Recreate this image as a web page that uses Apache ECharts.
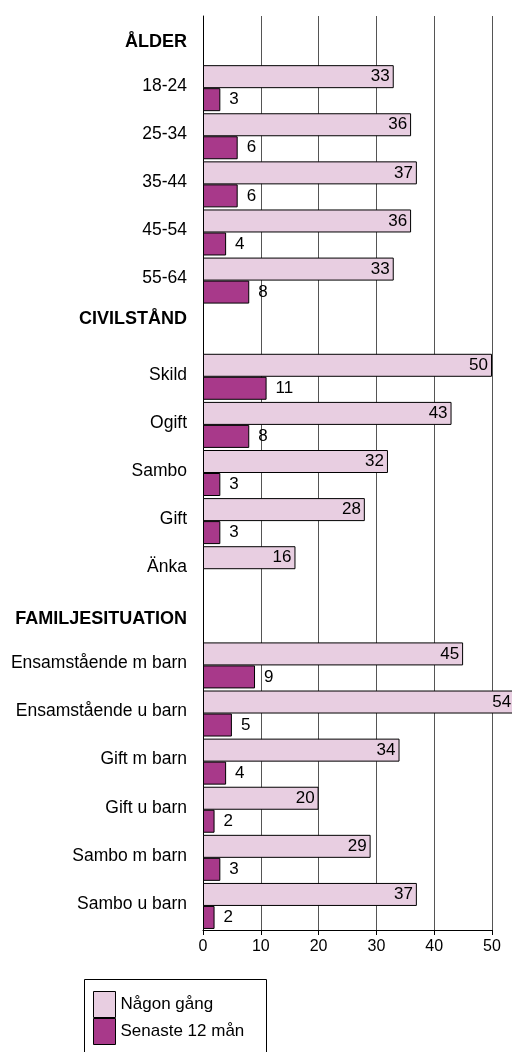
<!DOCTYPE html>
<html>
<head>
<meta charset="utf-8">
<script src="https://cdn.jsdelivr.net/npm/echarts@6/dist/echarts.min.js"></script>
<style>
  html, body { margin: 0; padding: 0; background: #fff; }
  #chart { width: 512px; height: 1052px; }
</style>
</head>
<body>
<div id="chart"></div>
<script>
// grupprubriker är egna rader utan staplar
const headers = ['ÅLDER', 'CIVILSTÅND', 'FAMILJESITUATION'];
const categories = [
  'ÅLDER', '18-24', '25-34', '35-44', '45-54', '55-64',
  'CIVILSTÅND', 'Skild', 'Ogift', 'Sambo', 'Gift', 'Änka',
  'FAMILJESITUATION', 'Ensamstående m barn', 'Ensamstående u barn',
  'Gift m barn', 'Gift u barn', 'Sambo m barn', 'Sambo u barn'
];
const nagonGang = [null, 33, 36, 37, 36, 33, null, 50, 43, 32, 28, 16, null, 45, 54, 34, 20, 29, 37];
const senaste12 = [null, 3, 6, 6, 4, 8, null, 11, 8, 3, 3, null, null, 9, 5, 4, 2, 3, 2];
const xTicks = [0, 10, 20, 30, 40, 50];

const font = '"Liberation Sans", Arial, Helvetica, sans-serif';
const chart = echarts.init(document.getElementById('chart'));

chart.setOption({
  animation: false,
  textStyle: { fontFamily: font },
  grid: { left: 203, right: 20, top: 16, bottom: 122, containLabel: false },
  // ramen runt förklaringen går ut över bildens nederkant
  graphic: [{
    type: 'rect',
    left: 82,
    top: 977,
    shape: { width: 182, height: 100 },
    style: { fill: 'none', stroke: '#000', lineWidth: 1 }
  }],
  legend: {
    orient: 'vertical',
    left: 93,
    top: 991,
    padding: 0,
    icon: 'rect',
    itemWidth: 22,
    itemHeight: 26,
    itemGap: 0,
    itemStyle: { borderColor: '#000', borderWidth: 1 },
    textStyle: { fontSize: 17, color: '#000', fontFamily: font },
    data: ['Någon gång', 'Senaste 12 mån']
  },
  xAxis: {
    type: 'value',
    min: xTicks[0],
    max: xTicks[xTicks.length - 1],
    interval: 10,
    axisLine: { show: true, lineStyle: { color: '#000', width: 1 } },
    axisTick: { show: true, length: 5, lineStyle: { color: '#000' } },
    axisLabel: { fontSize: 16, color: '#000', margin: 9, fontFamily: font },
    splitLine: { show: true, lineStyle: { color: '#555', width: 1 } }
  },
  yAxis: {
    type: 'category',
    inverse: true,
    data: categories,
    axisLine: { show: true, lineStyle: { color: '#000', width: 1 } },
    axisTick: { show: false },
    axisLabel: {
      margin: 16,
      fontSize: 17.5,
      color: '#000',
      fontFamily: font,
      formatter: v => {
        if (v === 'CIVILSTÅND') return '{hUp|' + v + '}';
        if (headers.includes(v)) return '{h|' + v + '}';
        return '{n|' + v + '}';
      },
      rich: {
        n: { fontSize: 17.5, padding: [0, 0, 4, 0], fontFamily: font, color: '#000' },
        h: { fontSize: 18, fontWeight: 'bold', padding: [4, 0, 0, 0], fontFamily: font, color: '#000' },
        hUp: { fontSize: 18, fontWeight: 'bold', padding: [0, 0, 20, 0], fontFamily: font, color: '#000' }
      }
    }
  },
  series: [
    {
      name: 'Någon gång',
      type: 'bar',
      data: nagonGang,
      barWidth: 23,
      barGap: '0%',
      clip: false,
      itemStyle: { color: '#e8cee1', borderColor: '#000', borderWidth: 1 },
      label: {
        show: true,
        position: 'insideRight',
        distance: 4,
        fontSize: 17,
        color: '#000',
        fontFamily: font
      }
    },
    {
      name: 'Senaste 12 mån',
      type: 'bar',
      data: senaste12,
      barWidth: 23,
      barGap: '0%',
      clip: false,
      itemStyle: { color: '#a8398a', borderColor: '#000', borderWidth: 1 },
      label: {
        show: true,
        position: 'right',
        distance: 9,
        fontSize: 17,
        color: '#000',
        fontFamily: font
      }
    }
  ]
});
</script>
</body>
</html>
